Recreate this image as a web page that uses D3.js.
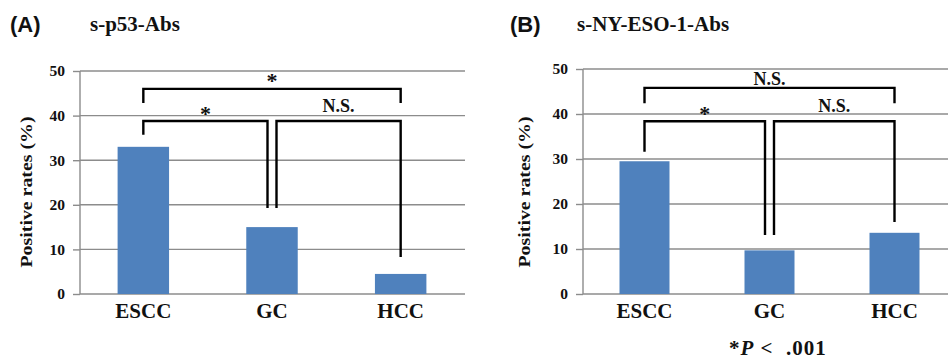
<!DOCTYPE html>
<html>
<head>
<meta charset="utf-8">
<script src="https://cdn.jsdelivr.net/npm/d3@7"></script>
<style>
  body { margin: 0; background: #fff; }
  svg { display: block; }
  .serif { font-family: 'Liberation Serif', 'Times New Roman', serif; font-weight: bold; fill: #111; }
</style>
</head>
<body>
<svg id="chart" width="948" height="361"></svg>
<script>
const categories = ['ESCC', 'GC', 'HCC'];
const p53Values = [33, 15, 4.5];
const nyEsoValues = [29.5, 9.7, 13.6];
const yTicks = [0, 10, 20, 30, 40, 50];

// brackets: from/to category, level of the bar, heights of the two ends (all in %)
const p53Brackets = [
  { from: 'ESCC', to: 'HCC', level: 46, ends: [42.8, 42.8], label: '*', side: 0 },
  { from: 'ESCC', to: 'GC', level: 38.8, ends: [35.7, 19.3], label: '*', side: -1 },
  { from: 'GC', to: 'HCC', level: 38.8, ends: [19.3, 8.3], label: 'N.S.', side: 1 },
];
const nyEsoBrackets = [
  { from: 'ESCC', to: 'HCC', level: 45.8, ends: [42.4, 42.4], label: 'N.S.', side: 0 },
  { from: 'ESCC', to: 'GC', level: 38.4, ends: [31.6, 13.1], label: '*', side: -1 },
  { from: 'GC', to: 'HCC', level: 38.4, ends: [13.1, 16], label: 'N.S.', side: 1 },
];

const svg = d3.select('#chart');

const drawPanel = (opt) => {
  const g = svg.append('g');

  const x = d3.scaleBand()
    .domain(categories)
    .range([opt.left, opt.right])
    .paddingInner(0.6)
    .paddingOuter(0.3);

  const y = d3.scaleLinear()
    .domain([0, 50])
    .range([294, opt.top]);

  // axis line, ticks and tick labels
  g.append('g')
    .attr('transform', `translate(${opt.left + 1},0)`)
    .call(d3.axisLeft(y).tickValues(yTicks).tickSize(7).tickPadding(8))
    .call(ax => ax.select('.domain').attr('stroke', '#8c8c8c').attr('stroke-width', 1.4)
      .attr('d', `M0,${y(50)}V${y(0)}`))
    .call(ax => ax.selectAll('.tick line').attr('stroke', '#8c8c8c').attr('stroke-width', 1.4))
    .call(ax => ax.selectAll('.tick text')
      .attr('class', 'serif')
      .style('font-size', '15.5px'));

  // gridlines
  g.append('g')
    .selectAll('line')
    .data(yTicks)
    .join('line')
    .attr('x1', opt.left + 1)
    .attr('x2', opt.gridEnd)
    .attr('y1', d => y(d))
    .attr('y2', d => y(d))
    .attr('stroke', '#8c8c8c')
    .attr('stroke-width', 1.4);

  // bars
  g.append('g')
    .selectAll('rect')
    .data(opt.values)
    .join('rect')
    .attr('x', (d, i) => x(categories[i]))
    .attr('width', x.bandwidth())
    .attr('y', d => y(d))
    .attr('height', d => y(0) - y(d))
    .attr('fill', '#4f81bd');

  // category labels
  g.append('g')
    .selectAll('text')
    .data(categories)
    .join('text')
    .attr('class', 'serif')
    .attr('x', d => x(d) + x.bandwidth() / 2)
    .attr('y', 318)
    .attr('text-anchor', 'middle')
    .style('font-size', '21px')
    .text(d => d);

  // y title
  g.append('text')
    .attr('class', 'serif')
    .attr('transform', `translate(${opt.titleX},192) rotate(-90)`)
    .attr('text-anchor', 'middle')
    .style('font-size', '17px')
    .attr('textLength', 151)
    .attr('lengthAdjust', 'spacingAndGlyphs')
    .text('Positive rates (%)');

  // significance brackets
  const cx = (cat, b) => {
    const c = x(cat) + x.bandwidth() / 2;
    if (cat !== 'GC') return c;
    return c + (b.side < 0 ? -4.5 : 4.5);
  };

  const br = g.append('g');
  opt.brackets.forEach((b) => {
    const x1 = cx(b.from, b);
    const x2 = cx(b.to, b);
    br.append('path')
      .attr('d', `M${x1},${y(b.ends[0])}V${y(b.level)}H${x2}V${y(b.ends[1])}`)
      .attr('fill', 'none')
      .attr('stroke', '#000')
      .attr('stroke-width', 2.4);
    const isStar = b.label === '*';
    br.append('text')
      .attr('class', 'serif')
      .attr('x', (x1 + x2) / 2)
      .attr('y', y(b.level) - (isStar ? (b.side === 0 ? 1 : 0) : (b.side === 0 ? 3 : 9)))
      .attr('text-anchor', 'middle')
      .style('font-size', isStar ? '22px' : '18px')
      .text(b.label);
  });

  // panel titles
  g.append('text')
    .attr('x', opt.tagX)
    .attr('y', 32)
    .style('font-family', "'Liberation Sans', Arial, sans-serif")
    .style('font-weight', 'bold')
    .style('font-size', '22px')
    .attr('fill', '#111')
    .text(opt.tag);

  g.append('text')
    .attr('class', 'serif')
    .attr('x', opt.nameX)
    .attr('y', 31)
    .style('font-size', '21px')
    .text(opt.name);
};

drawPanel({
  left: 79, right: 465, top: 71, gridEnd: 465,
  values: p53Values, brackets: p53Brackets,
  titleX: 32, tag: '(A)', tagX: 10, name: 's-p53-Abs', nameX: 90,
});

drawPanel({
  left: 582, right: 957, top: 69, gridEnd: 948,
  values: nyEsoValues, brackets: nyEsoBrackets,
  titleX: 530, tag: '(B)', tagX: 510, name: 's-NY-ESO-1-Abs', nameX: 577,
});

// footnote
const foot = svg.append('text')
  .attr('class', 'serif')
  .attr('x', 729)
  .attr('y', 355)
  .style('font-size', '21px')
  .style('letter-spacing', '1px');
foot.append('tspan').text('*');
foot.append('tspan').style('font-style', 'italic').text('P');
foot.append('tspan').text('\u00a0<\u00a0\u00a0.001');
</script>
</body>
</html>
